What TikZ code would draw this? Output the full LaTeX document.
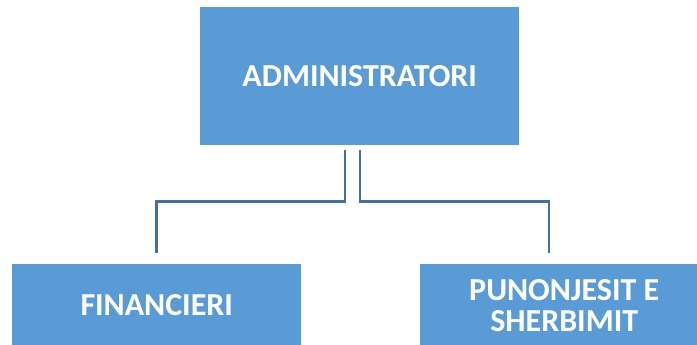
\documentclass[tikz,border=0pt]{standalone}
\usepackage{fontspec}
\setsansfont{Carlito}
\usetikzlibrary{positioning}
\definecolor{boxblue}{HTML}{5B9BD5}
\definecolor{lineblue}{HTML}{41719C}
\tikzset{%
  role/.style={rectangle,fill=boxblue,draw=none,inner sep=0pt,anchor=north west,align=center,text=white,font=\sffamily\bfseries\fontsize{32}{31}\selectfont},
  link/.style={draw=lineblue,line width=2.5pt}%
}

\begin{document}
\begin{tikzpicture}[x=1pt,y=-1pt]
    \useasboundingbox (0,0) rectangle (697,345);
    \node (admin) [role,minimum width=319pt,minimum height=138pt] at (200,7) {ADMINISTRATORI};
    \node (finance) [role,minimum width=289pt,minimum height=82pt] at (12,264) {FINANCIERI};
    \node (service) [role,minimum width=288pt,minimum height=82pt] at (420,264) {PUNONJESIT E\\SHERBIMIT};

    \draw[link] ([xshift=-14.5pt,yshift=-5pt]admin.south) |- ([yshift=-56pt]admin.south -| finance.north)
          -- ([yshift=11pt]finance.north);
    \draw[link] ([xshift=0.5pt,yshift=-5pt]admin.south) |- ([xshift=-15pt,yshift=-56pt]admin.south -| service.north)
          -- ([xshift=-15pt,yshift=11pt]service.north);

\end{tikzpicture}
\end{document}
